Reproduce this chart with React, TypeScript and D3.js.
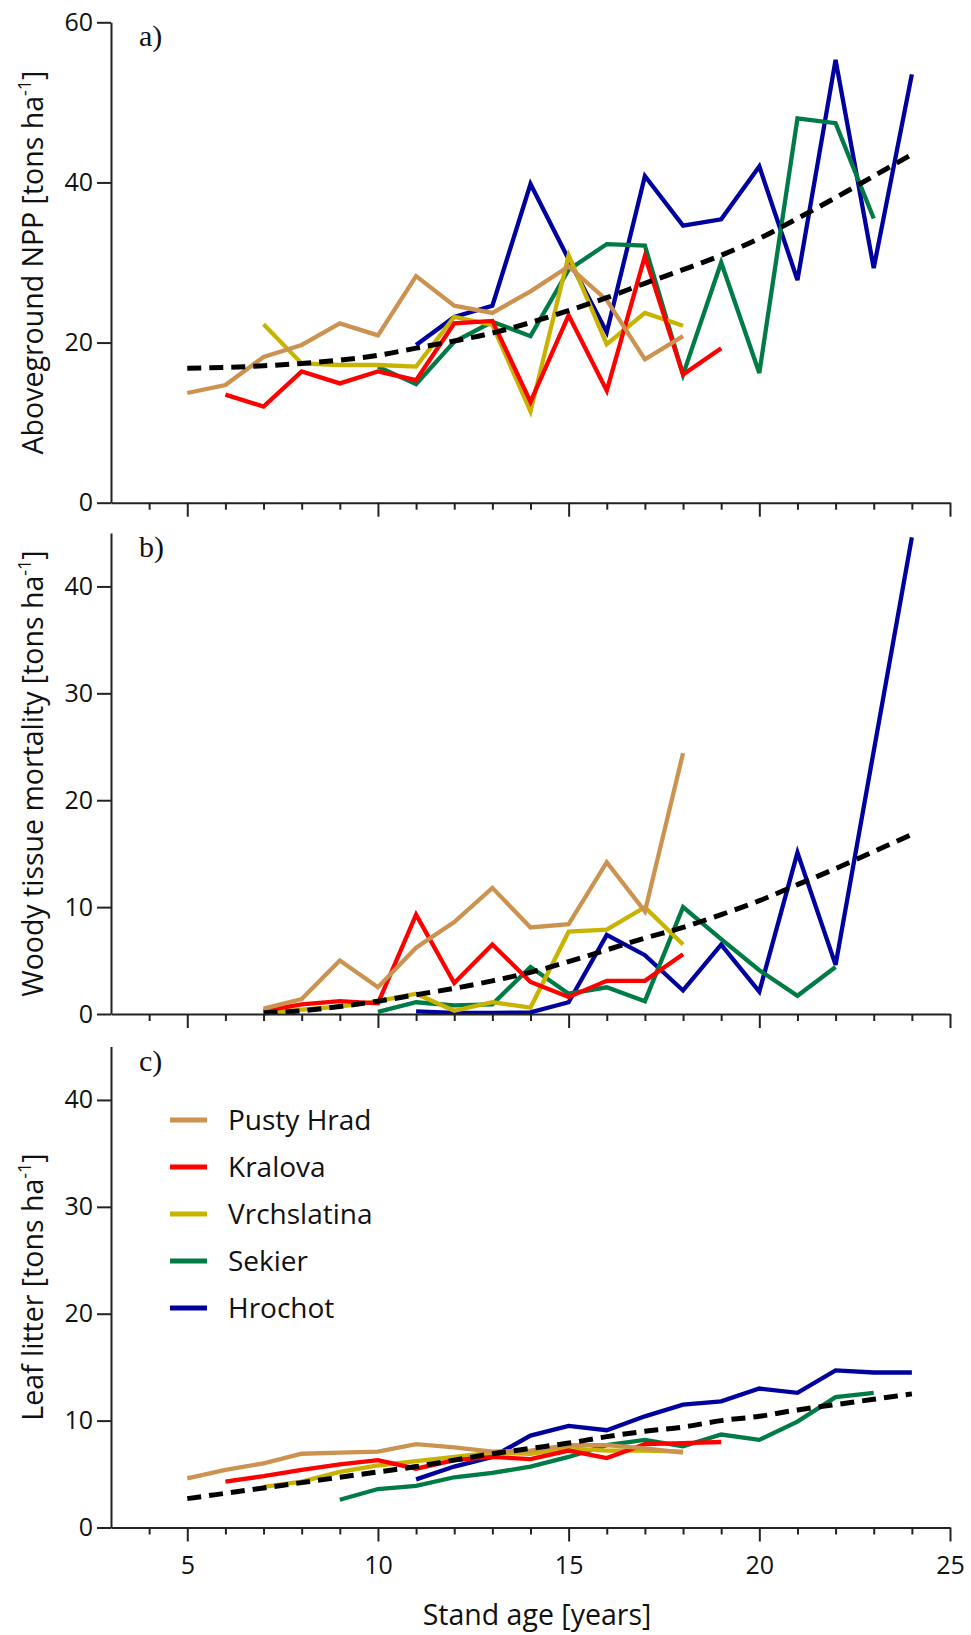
import { useEffect, useRef } from "react";
import * as d3 from "d3";

const SITES = ["Pusty Hrad", "Kralova", "Vrchslatina", "Sekier", "Hrochot"];
const SITE_COLORS = ["#cc9350", "#ff0000", "#c8b400", "#007b46", "#00009e"];

// stand age axis
const AGE_TICKS = d3.range(4, 26);
const AGE_LABELS = [5, 10, 15, 20, 25];

// a) aboveground NPP, first age of each site then one value per year
const nppStart = [5, 6, 7, 10, 11];
const nppPustyHrad = [13.7, 14.7, 18.2, 19.7, 22.4, 20.9, 28.3, 24.6, 23.7, 26.4, 29.5, 25.3, 17.9, 20.8];
const nppKralova = [13.5, 12.0, 16.4, 14.9, 16.4, 15.3, 22.4, 22.7, 12.6, 23.4, 14.0, 30.8, 16.0, 19.3];
const nppVrchslatina = [22.3, 17.4, 17.2, 17.2, 17.0, 23.2, 22.2, 11.4, 30.9, 19.8, 23.7, 22.1];
const nppSekier = [17.0, 14.8, 20.1, 22.6, 20.8, 29.1, 32.3, 32.1, 16.0, 30.0, 16.2, 48.0, 47.4, 35.5];
const nppHrochot = [19.7, 23.2, 24.6, 39.8, 30.4, 21.3, 40.8, 34.6, 35.4, 42.0, 27.8, 55.3, 29.3, 53.5];
const nppTrendStart = 5;
const nppTrend = [16.8, 16.9, 17.1, 17.4, 17.8, 18.4, 19.3, 20.2, 21.2, 22.5, 24.0, 25.6, 27.4, 29.1, 30.9, 33.0, 35.5, 38.1, 40.8, 43.5];

// b) woody tissue mortality
const mortStart = [7, 7, 7, 10, 11];
const mortPustyHrad = [0.5, 1.4, 5.0, 2.5, 6.2, 8.6, 11.8, 8.1, 8.4, 14.2, 9.6, 24.4];
const mortKralova = [0.3, 0.9, 1.2, 1.0, 9.3, 2.9, 6.5, 3.0, 1.6, 3.1, 3.1, 5.6];
const mortVrchslatina = [0.1, 0.4, 0.7, 1.2, 1.9, 0.3, 1.1, 0.6, 7.7, 7.9, 10.0, 6.5];
const mortSekier = [0.2, 1.1, 0.8, 0.9, 4.4, 1.9, 2.5, 1.2, 10.0, 7.0, 4.1, 1.7, 4.4];
const mortHrochot = [0.25, 0.1, 0.1, 0.15, 1.1, 7.4, 5.5, 2.2, 6.5, 2.1, 15.1, 4.6, 24.6, 44.6];
const mortTrendStart = 7;
const mortTrend = [0.1, 0.3, 0.7, 1.2, 1.8, 2.4, 3.1, 3.9, 4.9, 6.0, 7.1, 8.1, 9.3, 10.6, 12.1, 13.6, 15.2, 16.8];

// c) leaf litter
const litterStart = [5, 6, 7, 9, 11];
const litterPustyHrad = [4.6, 5.4, 6.0, 6.9, 7.0, 7.1, 7.8, 7.5, 7.1, 7.2, 7.7, 7.7, 7.4, 7.0];
const litterKralova = [4.3, 4.8, 5.4, 5.9, 6.3, 5.5, 6.3, 6.6, 6.4, 7.2, 6.5, 7.8, 7.9, 8.0];
const litterVrchslatina = [3.8, 4.3, 5.2, 5.8, 6.2, 6.6, 7.0, 6.9, 7.4, 7.2, 7.2, 7.1];
const litterSekier = [2.6, 3.6, 3.9, 4.7, 5.1, 5.7, 6.6, 7.7, 8.2, 7.6, 8.7, 8.2, 9.9, 12.2, 12.6];
const litterHrochot = [4.5, 5.7, 6.6, 8.6, 9.5, 9.1, 10.4, 11.5, 11.8, 13.0, 12.6, 14.7, 14.5, 14.5];
const litterTrendStart = 5;
const litterTrend = [2.7, 3.2, 3.7, 4.2, 4.7, 5.2, 5.7, 6.3, 6.9, 7.4, 7.9, 8.5, 9.0, 9.4, 10.0, 10.4, 11.0, 11.5, 12.0, 12.5];

const SANS = "'Open Sans', 'Noto Sans', sans-serif";

interface Panel {
  label: string;
  title: string;
  top: number;
  bottom: number;
  yMax: number;
  yTicks: number[];
  starts: number[];
  series: number[][];
  trendStart: number;
  trend: number[];
  showAgeLabels: boolean;
}

const panels: Panel[] = [
  {
    label: "a)",
    title: "Aboveground NPP [tons ha",
    top: 22.3,
    bottom: 502.7,
    yMax: 60,
    yTicks: [0, 20, 40, 60],
    starts: nppStart,
    series: [nppPustyHrad, nppKralova, nppVrchslatina, nppSekier, nppHrochot],
    trendStart: nppTrendStart,
    trend: nppTrend,
    showAgeLabels: false,
  },
  {
    label: "b)",
    title: "Woody tissue mortality [tons ha",
    top: 533,
    bottom: 1014,
    yMax: 45,
    yTicks: [0, 10, 20, 30, 40],
    starts: mortStart,
    series: [mortPustyHrad, mortKralova, mortVrchslatina, mortSekier, mortHrochot],
    trendStart: mortTrendStart,
    trend: mortTrend,
    showAgeLabels: false,
  },
  {
    label: "c)",
    title: "Leaf litter [tons ha",
    top: 1046.5,
    bottom: 1527.5,
    yMax: 45,
    yTicks: [0, 10, 20, 30, 40],
    starts: litterStart,
    series: [litterPustyHrad, litterKralova, litterVrchslatina, litterSekier, litterHrochot],
    trendStart: litterTrendStart,
    trend: litterTrend,
    showAgeLabels: true,
  },
];

export default function App() {
  const svgRef = useRef<SVGSVGElement>(null);

  useEffect(() => {
    if (!svgRef.current) return;
    const width = 971;
    const height = 1635;

    const svg = d3.select(svgRef.current);
    svg.selectAll("*").remove();
    svg.attr("width", width).attr("height", height).attr("viewBox", `0 0 ${width} ${height}`);

    const x = d3.scaleLinear().domain([3, 25]).range([111, 950]);

    panels.forEach((p) => {
      const y = d3.scaleLinear().domain([0, p.yMax]).range([p.bottom, p.top]);
      const g = svg.append("g");

      const toPoints = (vals: number[], start: number) =>
        vals.map((v, i) => [start + i, v] as [number, number]);

      const line = d3
        .line<[number, number]>()
        .x((d) => x(d[0]))
        .y((d) => y(d[1]));

      // drawn back to front: Hrochot first, Pusty Hrad last
      for (let s = p.series.length - 1; s >= 0; s--) {
        g.append("path")
          .attr("d", line(toPoints(p.series[s], p.starts[s])))
          .attr("fill", "none")
          .attr("stroke", SITE_COLORS[s])
          .attr("stroke-width", 4.3)
          .attr("stroke-linejoin", "miter");
      }

      g.append("path")
        .attr("d", line.curve(d3.curveMonotoneX)(toPoints(p.trend, p.trendStart)))
        .attr("fill", "none")
        .attr("stroke", "#000")
        .attr("stroke-width", 5)
        .attr("stroke-dasharray", "14 8");

      // y axis
      const yAxis = g
        .append("g")
        .attr("transform", `translate(${x(3)},0)`)
        .call(
          d3
            .axisLeft(y)
            .tickValues(p.yTicks)
            .tickSize(14)
            .tickSizeOuter(0)
            .tickPadding(4)
            .tickFormat(d3.format("d"))
        );
      yAxis.select(".domain").attr("stroke", "#222").attr("stroke-width", 2);
      yAxis.selectAll(".tick line").attr("stroke", "#222").attr("stroke-width", 2);
      yAxis
        .selectAll(".tick text")
        .attr("font-family", SANS)
        .attr("font-size", 25)
        .attr("fill", "#111");

      // x axis
      const xAxis = g
        .append("g")
        .attr("transform", `translate(0,${p.bottom})`)
        .call(
          d3
            .axisBottom(x)
            .tickValues(AGE_TICKS)
            .tickSize(7)
            .tickSizeOuter(0)
            .tickPadding(22)
            .tickFormat((d) =>
              p.showAgeLabels && AGE_LABELS.includes(+d) ? String(d) : ""
            )
        );
      xAxis.select(".domain").attr("stroke", "#222").attr("stroke-width", 2);
      xAxis
        .selectAll<SVGLineElement, number>(".tick line")
        .attr("stroke", "#222")
        .attr("stroke-width", 2)
        .attr("y2", (d) => (AGE_LABELS.includes(d) ? 14 : 7));
      xAxis
        .selectAll(".tick text")
        .attr("font-family", SANS)
        .attr("font-size", 25)
        .attr("fill", "#111");

      // panel letter
      g.append("text")
        .attr("x", 139)
        .attr("y", p.top + 24)
        .attr("font-family", "'Liberation Serif', serif")
        .attr("font-size", 30)
        .attr("fill", "#111")
        .text(p.label);

      // y title with superscript
      const cy = (p.top + p.bottom) / 2;
      const title = g
        .append("text")
        .attr("transform", `translate(43,${cy}) rotate(-90)`)
        .attr("text-anchor", "middle")
        .attr("font-family", SANS)
        .attr("font-size", 28.5)
        .attr("fill", "#111");
      title.append("tspan").text(p.title);
      title.append("tspan").attr("dy", -12).attr("font-size", 18).text("-1");
      title.append("tspan").attr("dy", 12).text("]");
    });

    // x title
    svg
      .append("text")
      .attr("x", 537)
      .attr("y", 1625)
      .attr("text-anchor", "middle")
      .attr("font-family", SANS)
      .attr("font-size", 28.5)
      .attr("fill", "#111")
      .text("Stand age [years]");

    // legend
    const legend = svg.append("g");
    SITES.forEach((name, i) => {
      const ly = 1120 + i * 47;
      legend
        .append("line")
        .attr("x1", 170)
        .attr("x2", 207)
        .attr("y1", ly)
        .attr("y2", ly)
        .attr("stroke", SITE_COLORS[i])
        .attr("stroke-width", 5);
      legend
        .append("text")
        .attr("x", 228)
        .attr("y", ly + 10)
        .attr("font-family", SANS)
        .attr("font-size", 28)
        .attr("fill", "#111")
        .text(name);
    });
  }, []);

  return (
    <div style={{ position: "absolute", left: 0, top: 0, background: "#fff" }}>
      <svg ref={svgRef} style={{ display: "block" }} />
    </div>
  );
}
